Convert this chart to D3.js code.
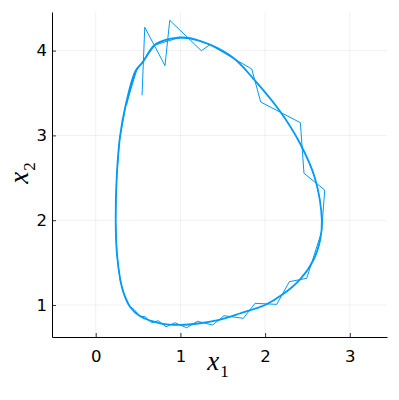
<!DOCTYPE html>
<html>
<head>
<meta charset="utf-8">
<script src="https://cdn.jsdelivr.net/npm/d3@7"></script>
<style>
  body { margin: 0; background: #fff; }
  svg { display: block; }
</style>
</head>
<body>
<div id="chart"></div>
<script>
// Noisy observations (x1, x2), in time order
const dataX1 = [0.547, 0.579, 0.818, 0.874, 1.247, 1.349, 1.842, 1.948, 2.416, 2.459, 2.704, 2.666, 2.491, 2.286, 2.137, 1.881, 1.743, 1.515, 1.381, 1.200, 1.074, 0.936, 0.830, 0.739, 0.661, 0.582, 0.523, 0.452, 0.405, 0.334, 0.287, 0.251, 0.234, 0.246, 0.281, 0.352, 0.484, 0.700, 0.972];
const dataX2 = [3.473, 4.275, 3.822, 4.357, 3.999, 4.070, 3.783, 3.394, 3.150, 2.553, 2.356, 1.861, 1.315, 1.275, 1.008, 1.020, 0.843, 0.874, 0.764, 0.808, 0.732, 0.791, 0.744, 0.815, 0.791, 0.862, 0.870, 0.949, 0.980, 1.130, 1.295, 1.590, 2.002, 2.474, 2.946, 3.335, 3.771, 4.066, 4.149];

// Smooth trajectory (x1, x2)
const solX1 = [0.36, 0.48, 0.56, 0.70, 0.84, 1.00, 1.11, 1.35, 1.63, 1.86, 2.18, 2.41, 2.59, 2.67, 2.65, 2.57, 2.41, 2.20, 2.00, 1.70, 1.43, 1.23, 1.00, 0.76, 0.52, 0.405, 0.33, 0.29, 0.25, 0.236, 0.248, 0.287, 0.35, 0.47, 0.555, 0.69, 0.83, 0.99, 1.10, 1.34];
const solX2 = [3.36, 3.77, 3.87, 4.07, 4.13, 4.15, 4.145, 4.07, 3.91, 3.67, 3.28, 2.91, 2.49, 2.00, 1.77, 1.53, 1.30, 1.12, 1.00, 0.90, 0.82, 0.785, 0.765, 0.785, 0.87, 0.98, 1.14, 1.30, 1.61, 2.00, 2.51, 2.985, 3.34, 3.76, 3.865, 4.06, 4.125, 4.155, 4.15, 4.075];

const xTicks = [0, 1, 2, 3];
const yTicks = [1, 2, 3, 4];

const W = 399, H = 400;
const box = { left: 52, right: 387, top: 12, bottom: 337 };
const blue = "#009af9";

const svg = d3.select("#chart").append("svg")
    .attr("width", W)
    .attr("height", H);

const x = d3.scaleLinear().domain([-0.516, 3.439]).range([box.left, box.right]);
const y = d3.scaleLinear().domain([0.623, 4.455]).range([box.bottom, box.top]);

// grid
svg.append("g")
   .selectAll("line")
   .data(xTicks)
   .join("line")
     .attr("x1", d => x(d)).attr("x2", d => x(d))
     .attr("y1", box.top).attr("y2", box.bottom)
     .attr("stroke", "#000").attr("stroke-opacity", 0.1).attr("stroke-width", 0.6);
svg.append("g")
   .selectAll("line")
   .data(yTicks)
   .join("line")
     .attr("y1", d => y(d)).attr("y2", d => y(d))
     .attr("x1", box.left).attr("x2", box.right)
     .attr("stroke", "#000").attr("stroke-opacity", 0.1).attr("stroke-width", 0.6);

// axes
const fmt = d3.format("d");
const xAxis = svg.append("g")
    .attr("transform", `translate(0,${box.bottom})`)
    .call(d3.axisBottom(x).tickValues(xTicks).tickFormat(fmt).tickSize(-4).tickPadding(9).tickSizeOuter(0));
const yAxis = svg.append("g")
    .attr("transform", `translate(${box.left},0)`)
    .call(d3.axisLeft(y).tickValues(yTicks).tickFormat(fmt).tickSize(-4).tickPadding(8).tickSizeOuter(0));

[xAxis, yAxis].forEach(g => {
    g.select(".domain").attr("stroke", "#000").attr("stroke-width", 1);
    g.selectAll(".tick line").attr("stroke", "#000").attr("stroke-width", 0.8);
    g.selectAll(".tick text")
     .attr("font-family", "'DejaVu Sans', sans-serif")
     .attr("font-size", 16.5)
     .attr("fill", "#000");
});
xAxis.selectAll(".tick text").attr("dy", "0.95em");
yAxis.selectAll(".tick text").attr("x", -5);

svg.append("clipPath").attr("id", "clip")
    .append("rect").attr("x", box.left).attr("y", box.top)
    .attr("width", box.right - box.left).attr("height", box.bottom - box.top);

const plot = svg.append("g").attr("clip-path", "url(#clip)");

// smooth trajectory
const sol = solX1.map((v, i) => [v, solX2[i]]);
plot.append("path")
    .datum(sol)
    .attr("fill", "none")
    .attr("stroke", blue)
    .attr("stroke-width", 1.8)
    .attr("d", d3.line().x(d => x(d[0])).y(d => y(d[1])).curve(d3.curveCatmullRom.alpha(0.5)));

// noisy data
const obs = dataX1.map((v, i) => [v, dataX2[i]]);
plot.append("path")
    .datum(obs)
    .attr("fill", "none")
    .attr("stroke", blue)
    .attr("stroke-width", 1)
    .attr("d", d3.line().x(d => x(d[0])).y(d => y(d[1])));

// axis labels
const xl = svg.append("text")
    .attr("x", 218).attr("y", 370)
    .attr("text-anchor", "middle")
    .attr("font-family", "'Liberation Serif', serif")
    .attr("font-style", "italic")
    .attr("font-size", 27);
xl.append("tspan").text("x");
xl.append("tspan").attr("font-size", 17).attr("font-style", "normal").attr("dx", 1).attr("dy", 7).text("1");

const yl = svg.append("text")
    .attr("transform", "translate(28,173) rotate(-90)")
    .attr("text-anchor", "middle")
    .attr("font-family", "'Liberation Serif', serif")
    .attr("font-style", "italic")
    .attr("font-size", 27);
yl.append("tspan").text("x");
yl.append("tspan").attr("font-size", 17).attr("font-style", "normal").attr("dx", 1).attr("dy", 7).text("2");
</script>
</body>
</html>
